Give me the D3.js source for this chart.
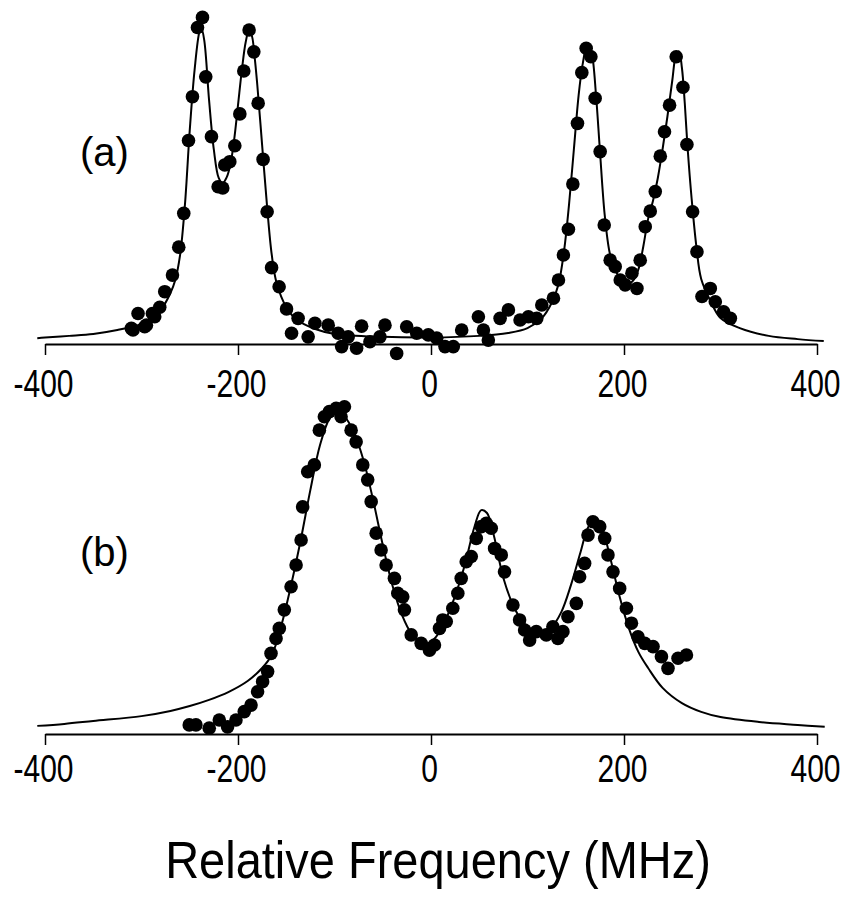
<!DOCTYPE html>
<html><head>
<meta charset="utf-8">
<title>Relative Frequency spectra</title>
<script src="https://d3js.org/d3.v7.min.js"></script>
<style>
  body { margin: 0; background: #fff; }
  text { font-family: "Liberation Sans", Arial, Helvetica, sans-serif; fill: #000; }
</style>
</head>
<body>
<div id="chart"></div>
<script>

// x ticks (MHz)
var xTicks = [-400, -200, 0, 200, 400];

// panel (a) measured points [MHz, intensity]
var dotsA = [
  [-310.5, 4.8], [-308.8, 4.3], [-303.6, 9.4], [-296.7, 5.3], [-294.9, 5.8], [-288.7, 9.4],
  [-286.3, 8.4], [-281.1, 11.3], [-275.9, 16.1], [-267.9, 21.2], [-261.4, 29.8], [-256.2, 40.2],
  [-251.3, 62.6], [-247.2, 76.1], [-242.0, 97.4], [-236.8, 100.5], [-233.4, 82.2], [-227.5, 63.8],
  [-220.6, 48.4], [-215.8, 48.0], [-213.7, 55.1], [-208.5, 56.1], [-203.3, 61.0], [-198.1, 70.8],
  [-194.0, 84.0], [-188.5, 96.6], [-183.6, 89.9], [-179.1, 74.1], [-174.0, 56.8], [-169.8, 40.7],
  [-165.2, 23.5], [-157.4, 17.6], [-149.7, 10.8], [-144.5, 3.3], [-137.7, 7.9], [-127.3, 2.2],
  [-120.3, 6.4], [-106.5, 5.8], [-96.2, 3.3], [-92.6, -0.8], [-85.8, 2.2], [-77.1, -1.3],
  [-71.9, 5.5], [-63.3, 0.7], [-52.9, 2.2], [-47.7, 5.8], [-35.6, -2.9], [-25.2, 5.3],
  [-14.8, 3.3], [-2.8, 2.8], [5.9, 1.8], [14.5, -0.8], [23.1, -0.8], [31.8, 4.3],
  [49.1, 8.4], [59.4, 1.2], [54.3, 4.3], [71.6, 7.9], [80.2, 10.5], [92.3, 7.4],
  [100.9, 8.4], [109.6, 7.9], [114.8, 12.0], [126.9, 14.1], [132.1, 19.7], [137.2, 27.4],
  [142.4, 35.3], [147.0, 49.2], [151.8, 67.9], [156.3, 83.5], [160.8, 91.0], [165.7, 88.4],
  [170.1, 75.6], [175.3, 59.2], [179.5, 36.6], [185.7, 25.8], [190.9, 23.8], [196.1, 19.7],
  [201.2, 18.2], [208.2, 21.8], [213.4, 17.1], [216.8, 25.8], [222.0, 36.1], [227.2, 40.9],
  [232.4, 46.9], [237.6, 57.8], [242.0, 65.3], [247.2, 73.5], [254.1, 88.4], [261.1, 79.0],
  [265.2, 61.4], [271.1, 40.7], [275.6, 28.4], [280.8, 14.6], [289.4, 17.1], [294.6, 13.0],
  [303.2, 9.9], [310.2, 7.9]
];

// panel (a) fitted curve [MHz, intensity]
var fitA = [
  [-408, 1.8], [-400, 2.0], [-375, 2.5], [-350, 3.1], [-325, 4.3], [-300, 6.2], [-290, 8.0],
  [-280, 10.5], [-270, 15.7], [-265, 19.7], [-260, 27.4], [-255, 42.8], [-250, 65.8], [-245, 84.3],
  [-240, 96.0], [-238, 97.2], [-235, 93.5], [-230, 75.1], [-225, 59.7], [-220, 51.1], [-216, 49.5],
  [-212, 51.1], [-208, 55.1], [-204, 62.8], [-200, 73.5], [-196, 84.3], [-192, 92.9], [-189, 96.0],
  [-186, 95.1], [-183, 88.9], [-180, 79.7], [-175, 61.2], [-170, 42.8], [-165, 27.4], [-160, 18.8],
  [-150, 11.4], [-140, 7.7], [-120, 4.6], [-100, 3.1], [-50, 2.2], [0, 2.0], [50, 2.5], [80, 3.4],
  [100, 4.9], [115, 8.0], [125, 12.6], [132, 18.2], [138, 28.9], [143, 42.8], [148, 59.7],
  [153, 76.6], [157, 85.8], [161, 91.1], [164, 91.7], [167, 88.9], [171, 76.6], [175, 59.7],
  [180, 39.7], [185, 28.3], [190, 23.4], [195, 20.6], [200, 19.1], [205, 18.5], [210, 19.7],
  [215, 23.0], [220, 30.0], [225, 38.5], [230, 44.0], [235, 51.0], [240, 60.0], [245, 70.0],
  [250, 81.0], [254, 89.0], [257, 90.0], [260, 85.0], [263, 74.0], [266, 60.0], [270, 45.0],
  [275, 30.0], [280, 20.0], [290, 13.0], [300, 8.0], [320, 4.9], [350, 2.5], [380, 1.5], [407, 0.9]
];

// panel (b) measured points [MHz, intensity]
var dotsB = [
  [-250.5, 2.8], [-243.6, 2.8], [-229.8, 1.8], [-219.4, 4.3], [-210.8, 2.2], [-202.1, 4.3],
  [-193.5, 6.9], [-186.5, 8.9], [-179.7, 13.0], [-174.5, 16.1], [-169.3, 19.2], [-165.8, 24.8],
  [-160.6, 29.4], [-157.2, 32.5], [-152.0, 38.2], [-145.0, 45.3], [-139.8, 52.0], [-134.6, 59.7],
  [-133.0, 69.9], [-127.8, 80.7], [-120.9, 82.8], [-115.7, 93.5], [-110.5, 97.6], [-105.3, 99.2],
  [-98.3, 100.2], [-89.7, 100.7], [-93.2, 97.6], [-82.8, 93.5], [-77.6, 89.9], [-70.7, 82.8],
  [-65.6, 78.2], [-62.0, 71.5], [-56.8, 61.8], [-51.7, 56.6], [-46.5, 52.0], [-37.9, 47.9],
  [-34.4, 43.3], [-29.3, 42.2], [-27.5, 38.2], [-20.5, 30.5], [-10.2, 27.9], [-1.6, 25.8],
  [3.6, 27.4], [8.8, 32.5], [12.2, 35.1], [15.8, 34.6], [22.6, 38.7], [27.8, 43.3],
  [31.3, 47.9], [36.5, 53.0], [41.7, 54.6], [46.9, 60.2], [52.1, 63.8], [57.3, 64.8],
  [62.4, 63.3], [65.9, 57.1], [72.8, 55.1], [76.2, 49.9], [84.9, 39.7], [91.8, 35.1],
  [97.0, 32.0], [102.2, 28.9], [109.1, 31.5], [119.5, 30.5], [126.3, 33.0], [131.5, 29.4],
  [136.7, 31.5], [141.9, 36.1], [150.6, 40.2], [154.0, 48.4], [159.2, 52.5], [162.7, 61.2],
  [167.8, 65.3], [174.8, 63.8], [180.0, 60.2], [183.4, 55.1], [188.6, 49.9], [195.5, 44.8],
  [202.5, 38.7], [207.7, 34.1], [214.5, 29.9], [221.5, 27.9], [230.1, 26.9], [238.8, 23.8],
  [245.6, 20.2], [256.0, 23.3], [264.7, 24.3]
];

// panel (b) fitted curve [MHz, intensity]
var fitB = [
  [-408, 2.5], [-380, 3.1], [-350, 4.0], [-300, 5.5], [-270, 7.1], [-250, 8.6], [-230, 10.5],
  [-210, 12.9], [-190, 16.3], [-175, 20.3], [-165, 24.3], [-155, 33.5], [-145, 45.8], [-135, 59.7],
  [-125, 75.1], [-115, 88.9], [-105, 97.2], [-98, 99.1], [-90, 97.8], [-80, 92.9], [-70, 84.3],
  [-60, 72.0], [-50, 58.2], [-40, 45.8], [-30, 36.6], [-20, 30.8], [-10, 28.3], [-3, 28.0],
  [5, 29.8], [15, 35.1], [25, 42.5], [35, 52.0], [45, 63.7], [52, 68.9], [58, 68.0], [65, 61.2],
  [75, 48.0], [85, 39.7], [95, 34.5], [105, 32.0], [115, 31.4], [125, 32.9], [135, 37.5],
  [145, 45.8], [155, 56.0], [163, 63.7], [170, 65.8], [177, 63.4], [185, 55.1], [195, 42.8],
  [205, 32.6], [215, 25.2], [225, 20.3], [240, 14.2], [260, 9.5], [280, 6.8], [300, 5.2],
  [340, 3.7], [380, 2.8], [408, 2.2]
];

var W = 851, H = 904;

var svg = d3.select("#chart")
  .append("svg")
    .attr("width", W)
    .attr("height", H);

var x = d3.scaleLinear()
    .domain([-400, 400])
    .range([45, 817]);

function drawPanel(dots, fit, axisY, label, labelY, tickBase) {
  var y = d3.scaleLinear()
      .domain([0, 100])
      .range([axisY, axisY - 325]);

  var g = svg.append("g");

  g.append("g")
      .attr("transform", "translate(0," + axisY + ")")
      .call(d3.axisBottom(x)
        .tickValues(xTicks)
        .tickSize(11)
        .tickSizeOuter(0)
        .tickFormat(d3.format("d")))
      .call(function(a) {
        a.select(".domain").attr("stroke-width", 2.2);
        a.selectAll(".tick line").attr("stroke-width", 1.5);
        // tall, narrow lettering as in the scan
        a.selectAll(".tick text")
          .attr("y", null)
          .attr("dy", null)
          .attr("transform", "translate(-2," + tickBase + ") scale(1,1.3)")
          .style("font-size", "30px")
          .attr("fill", "#000")
          .text(function(d) { return d < 0 ? "-" + Math.abs(d) : d; });
      });

  g.append("path")
      .datum(fit)
      .attr("fill", "none")
      .attr("stroke", "#000")
      .attr("stroke-width", 2)
      .attr("d", d3.line()
        .curve(d3.curveCatmullRom.alpha(0.5))
        .x(function(d) { return x(d[0]); })
        .y(function(d) { return y(d[1]); }));

  g.selectAll("circle")
      .data(dots)
      .enter().append("circle")
      .attr("cx", function(d) { return x(d[0]); })
      .attr("cy", function(d) { return y(d[1]); })
      .attr("r", 6.8)
      .attr("fill", "#000");

  g.append("text")
      .attr("x", 80)
      .attr("y", labelY)
      .style("font-size", "40px")
      .text(label);
}

drawPanel(dotsA, fitA, 344, "(a)", 166, 53);
drawPanel(dotsB, fitB, 734, "(b)", 566, 48);

svg.append("text")
    .attr("transform", "translate(438,878) scale(1,1.1)")
    .attr("text-anchor", "middle")
    .style("font-size", "47px")
    .text("Relative Frequency (MHz)");

</script>
</body></html>
